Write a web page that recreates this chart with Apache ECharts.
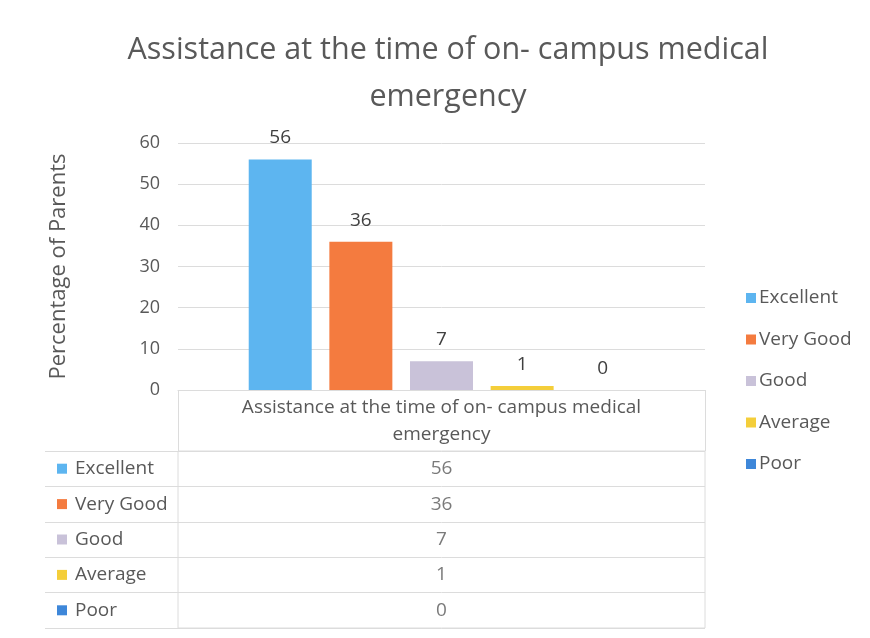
<!DOCTYPE html>
<html><head><meta charset="utf-8">
<script src="https://cdn.jsdelivr.net/npm/echarts@6/dist/echarts.min.js"></script>
<style>html,body{margin:0;padding:0;background:#fff}#c{width:870px;height:638px}</style>
</head><body><div id="c"></div>
<script>
const titleText = 'Assistance at the time of on- campus medical\nemergency';
const categories = ['Assistance at the time of on- campus medical\nemergency'];
const seriesNames = ['Excellent', 'Very Good', 'Good', 'Average', 'Poor'];
const seriesValues = [56, 36, 7, 1, 0];
const seriesColors = ['#5DB5F0', '#F47B3F', '#C9C2D9', '#F4CE3A', '#3E87D9'];
const yTicks = {min: 0, max: 60, interval: 10};
const yName = 'Percentage of Parents';

const FONT = 'Open Sans';
const GRID_COLOR = '#dcdcdc';
const TXT = '#595959';

const chart = echarts.init(document.getElementById('c'));

const rich = {};
seriesNames.forEach((n, i) => {
  rich['sq' + i] = {backgroundColor: seriesColors[i], width: 10, height: 10};
});
rich.t = {fontSize: 19, color: TXT, fontFamily: FONT, padding: [0, 0, 0, 8]};

const barSeries = seriesNames.map((n, i) => ({
  name: n,
  type: 'bar',
  xAxisIndex: 0, yAxisIndex: 0,
  data: [seriesValues[i]],
  barWidth: 63,
  barGap: '28%',
  itemStyle: {color: seriesColors[i]},
  label: {show: true, position: 'top', distance: 12, fontSize: 19, color: '#404040', fontFamily: FONT},
  emphasis: {disabled: true}
}));

const tableSeries = {
  type: 'scatter',
  xAxisIndex: 1, yAxisIndex: 1,
  symbolSize: 1,
  itemStyle: {color: 'transparent'},
  data: seriesNames.map((n, i) => [categories[0], n, seriesValues[i]]),
  label: {show: true, position: 'inside', fontSize: 19, color: TXT, fontFamily: FONT,
          formatter: p => String(p.value[2])},
  silent: true
};

chart.setOption({
  backgroundColor: '#fff',
  animation: false,
  title: {
    text: titleText,
    left: 443, top: 22, textAlign: 'center',
    textStyle: {fontSize: 30.5, fontWeight: 'normal', color: TXT, fontFamily: FONT, lineHeight: 47}
  },
  legend: {
    orient: 'vertical',
    left: 741, top: 283,
    itemWidth: 10, itemHeight: 10, itemGap: 21.5,
    icon: 'rect',
    data: seriesNames,
    textStyle: {fontSize: 19, lineHeight: 20, color: TXT, fontFamily: FONT, padding: [0, 0, 0, -2]}
  },
  grid: [
    {left: 178, width: 527, top: 143, height: 247},
    {left: 178, width: 527, top: 451, height: 177, show: true, borderColor: GRID_COLOR, borderWidth: 1}
  ],
  xAxis: [
    {
      type: 'category', gridIndex: 0, data: categories,
      axisLine: {show: true, lineStyle: {color: GRID_COLOR}},
      axisTick: {show: true, length: 61, lineStyle: {color: GRID_COLOR}},
      axisLabel: {fontSize: 19, color: TXT, fontFamily: FONT, lineHeight: 27, margin: 4}
    },
    {
      type: 'category', gridIndex: 1, data: categories,
      axisLine: {show: false}, axisTick: {show: false}, axisLabel: {show: false}
    }
  ],
  yAxis: [
    {
      type: 'value', gridIndex: 0,
      min: yTicks.min, max: yTicks.max, interval: yTicks.interval,
      name: yName, nameLocation: 'middle', nameGap: 108,
      nameTextStyle: {fontSize: 22, color: TXT, fontFamily: FONT},
      axisLine: {show: false}, axisTick: {show: false},
      axisLabel: {fontSize: 18, color: TXT, fontFamily: FONT, margin: 18},
      splitLine: {lineStyle: {color: GRID_COLOR}}
    },
    {
      type: 'category', gridIndex: 1, data: seriesNames, inverse: true,
      axisLine: {show: false},
      axisTick: {show: true, length: 133, interval: 0, lineStyle: {color: GRID_COLOR}},
      splitLine: {show: true, interval: 0, lineStyle: {color: GRID_COLOR}},
      axisLabel: {
        align: 'left', margin: 121, interval: 0,
        formatter: (v, i) => '{sq' + i + '|}{t|' + v + '}',
        rich: rich
      }
    }
  ],
  series: barSeries.concat([tableSeries])
});
</script>
</body></html>
